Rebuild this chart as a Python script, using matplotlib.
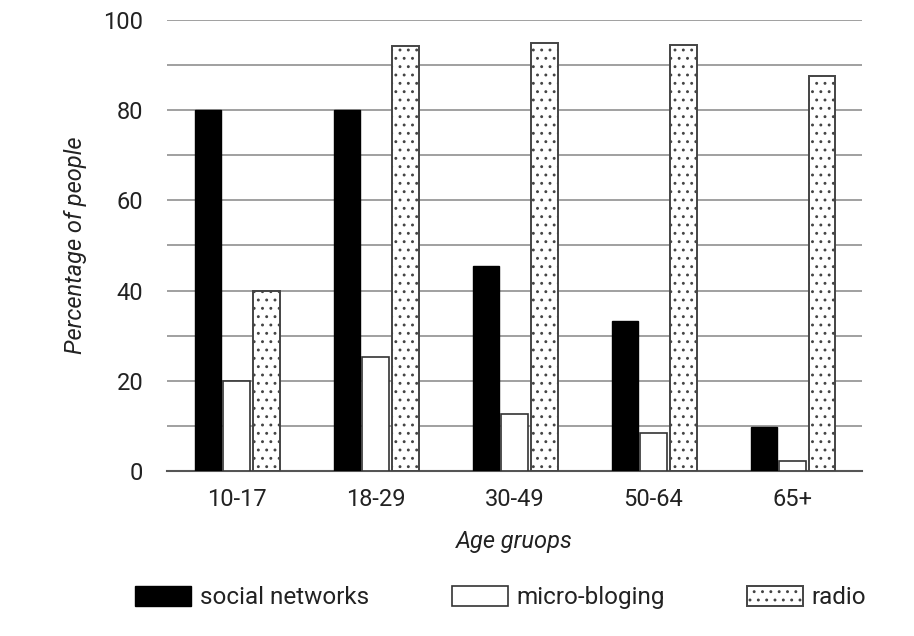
import numpy as np
import matplotlib.pyplot as plt

plt.rcParams['font.family'] = ['Roboto', 'DejaVu Sans']
plt.rcParams['hatch.linewidth'] = 0.9
plt.rcParams['hatch.color'] = '#8a8a8a'

groups = ['10-17', '18-29', '30-49', '50-64', '65+']
social = [80, 80, 45.5, 33.3, 9.8]
micro = [20, 25.3, 12.6, 8.4, 2.2]
radio = [40, 94.2, 94.9, 94.5, 87.6]

fig = plt.figure(figsize=(9.14, 6.36), dpi=100)
ax = fig.add_axes([0.1827, 0.2594, 0.7603, 0.7092])

x = np.arange(len(groups))
w = 0.19
ax.bar(x - 0.205, social, w, color='black', edgecolor='black', label='social networks', zorder=3)
ax.bar(x, micro, w, color='white', edgecolor='#333333', linewidth=1.2, label='micro-bloging', zorder=3)
ax.bar(x + 0.215, radio, w, color='white', edgecolor='#444444', linewidth=1.4, hatch='..', label='radio', zorder=3)

ax.set_xlim(-0.5, 4.5)
ax.set_ylim(0, 100)
ax.set_yticks(range(0, 101, 20))
ax.set_yticks(range(0, 101, 10), minor=True)
ax.grid(axis='y', which='both', color='#999999', linewidth=1.3, zorder=0)
ax.tick_params(axis='both', which='both', length=0, labelsize=17, colors='#222222')
ax.tick_params(axis='y', pad=17)
ax.tick_params(axis='x', pad=12)
ax.set_xticks(x)
ax.set_xticklabels(groups)
for s in ['top', 'right', 'left']:
    ax.spines[s].set_visible(False)
ax.spines['bottom'].set_color('#555555')
ax.spines['bottom'].set_linewidth(1.5)

ax.set_xlabel('Age gruops', fontsize=17, style='italic', labelpad=14, color='#222222')
ax.set_ylabel('Percentage of people', fontsize=17, style='italic', labelpad=12, color='#222222')

# legend
leg = fig.legend(loc='lower center', bbox_to_anchor=(0.548, 0.008), ncol=3, frameon=False,
                 fontsize=17.5, handlelength=2.3, handleheight=0.9, columnspacing=3.4, handletextpad=0.35)
for t in leg.get_texts():
    t.set_color('#222222')

fig.savefig('out.png', dpi=100)
